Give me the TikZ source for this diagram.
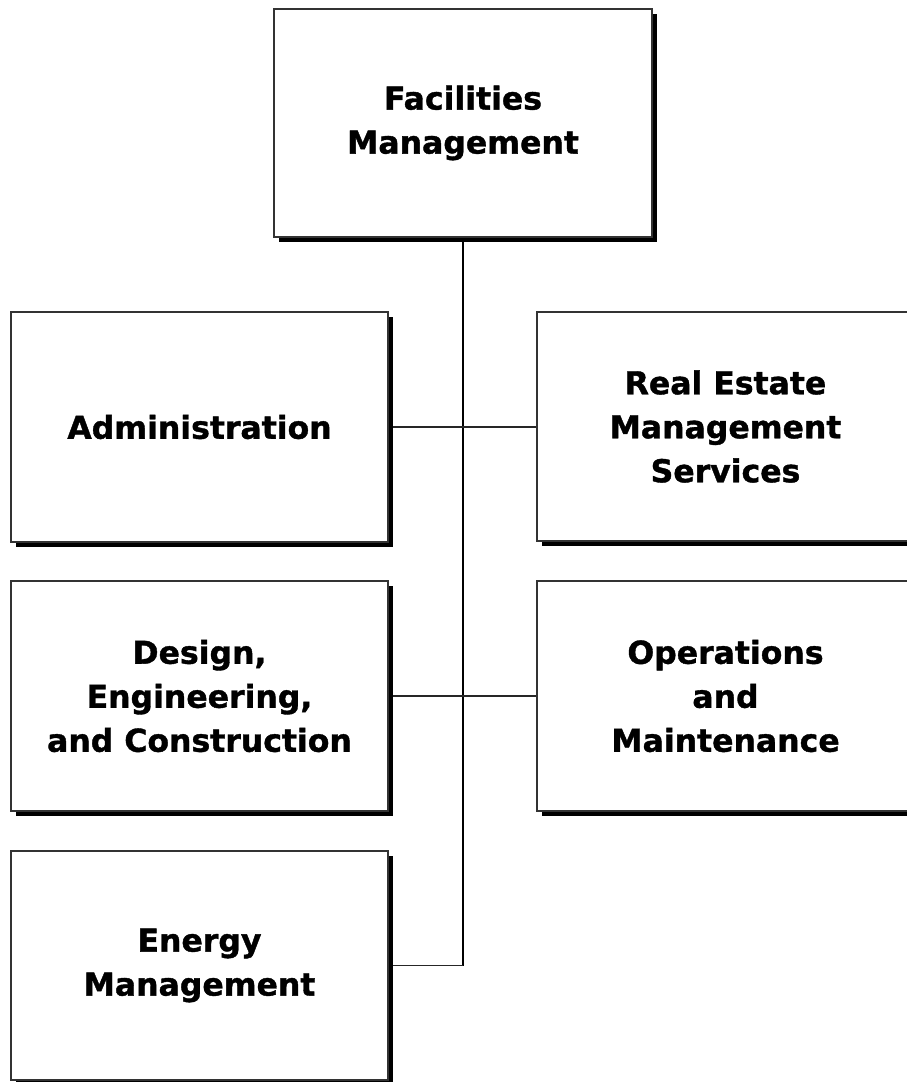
\documentclass[tikz,border=0pt]{standalone}
\usepackage{fontspec}
\setmainfont{DejaVu Sans}[BoldFeatures={FakeBold=1.2}]
\usetikzlibrary{shadows,backgrounds}
\tikzset{
  orgbox/.style={draw=black!80, line width=1.2pt, fill=white, rectangle,
    align=center, inner sep=0pt, outer sep=0pt,
    font=\fontsize{31.5}{44}\selectfont\bfseries,
    drop shadow={shadow xshift=5pt, shadow yshift=-5pt, fill=black, opacity=1}},
  trunk/.style={draw=black, line width=2pt},
  branch/.style={draw=black!85, line width=1.3pt}
}
\begin{document}
\begin{tikzpicture}[x=1pt,y=-1pt]
\useasboundingbox (0,0) rectangle (906,1082);
\node[orgbox, minimum width=378pt, minimum height=228pt] (top) at (463,123) {Facilities\\Management};
\node[orgbox, minimum width=377pt, minimum height=230pt] (admin) at (199.5,427) {Administration};
\node[orgbox, minimum width=377pt, minimum height=229pt] (real) at (725.5,426.5) {Real Estate\\Management\\Services};
\node[orgbox, minimum width=377pt, minimum height=230pt] (design) at (199.5,696) {Design,\\Engineering,\\and Construction};
\node[orgbox, minimum width=377pt, minimum height=230pt] (ops) at (725.5,696) {Operations\\and\\Maintenance};
\node[orgbox, minimum width=377pt, minimum height=229pt] (energy) at (199.5,965.5) {Energy\\Management};
\coordinate (vend) at (463,965.5);
\begin{scope}[on background layer]
\draw[trunk] (top.south) -- (vend);
\draw[branch] (admin.east) -- (admin.east -| real.west);
\draw[branch] (design.east) -- (ops.west);
\draw[branch] (energy.east) -- (vend);
\end{scope}
\end{tikzpicture}
\end{document}
